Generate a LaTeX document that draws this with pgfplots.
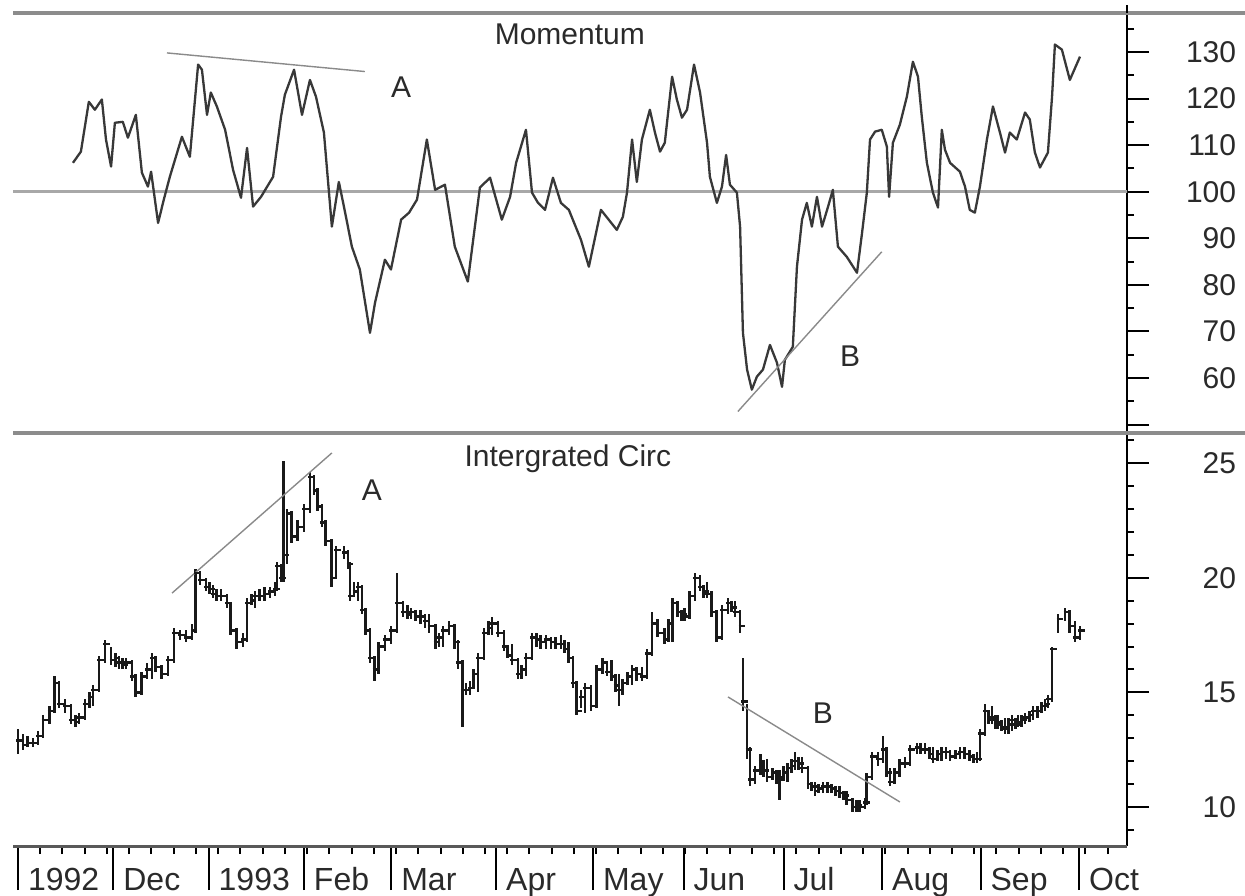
\documentclass[border=0pt]{standalone}
\usepackage{fontspec}
\setmainfont{Liberation Sans}
\usepackage{pgfplots}
\usepackage{pgfplotstable}
\pgfplotsset{compat=1.18}

\pgfdeclareplotmark{ohlc}{%
  \pgfpathmoveto{\pgfqpoint{-0.3\pgfplotmarksize}{0pt}}%
  \pgfpathlineto{\pgfqpoint{\pgfplotmarksize}{0pt}}%
  \pgfusepathqstroke}

\definecolor{framegray}{HTML}{8C8C8C}
\definecolor{linegray}{HTML}{383838}
\definecolor{refgray}{HTML}{A8A8A8}
\definecolor{trendgray}{HTML}{8A8A8A}
\definecolor{textgray}{HTML}{2A2A2A}

% Momentum (x = days from 1 Nov 1992)
\pgfplotstableread{
x y
17.3 106.2
19.8 108.6
22.3 119.3
24.2 117.6
26.4 119.8
27.7 111.2
29.3 105.4
30.5 114.8
33.0 115.0
34.6 111.6
37.1 116.5
39.0 104.1
40.9 101.1
41.9 104.3
44.1 93.3
45.9 98.3
47.8 103.2
51.6 111.8
54.1 107.5
56.7 127.3
57.9 126.2
59.5 116.5
60.7 121.3
62.6 118.3
65.2 113.3
67.7 104.7
70.2 98.7
72.1 109.4
74.0 96.8
76.5 98.9
80.3 103.2
82.8 116.1
84.0 120.8
86.9 126.2
89.4 116.5
91.9 124.0
93.8 120.4
96.3 112.7
98.8 92.5
101.0 102.1
102.6 96.8
105.1 88.2
107.6 83.3
110.8 69.7
112.4 76.2
115.5 85.4
117.4 83.3
120.6 94.0
123.1 95.5
125.6 98.3
128.7 111.2
131.3 100.4
134.4 101.5
137.5 88.2
141.6 80.7
145.4 100.9
148.6 103.0
152.3 94.0
154.9 98.9
156.8 106.2
159.9 113.3
161.8 99.8
163.7 97.6
165.9 96.1
168.4 103.0
170.9 97.6
173.4 96.1
177.2 89.7
179.7 83.9
183.5 96.1
188.5 91.8
190.4 94.6
191.7 99.8
193.3 111.2
194.8 102.1
196.4 111.2
198.9 117.6
200.5 112.7
202.1 108.6
203.6 110.5
205.9 124.7
207.4 119.8
209.0 115.9
210.6 117.6
212.8 127.3
214.7 121.3
216.9 110.5
217.8 103.2
220.0 97.6
221.6 101.1
222.9 107.9
224.1 101.5
226.3 99.8
227.3 92.5
228.2 69.7
229.5 61.8
231.0 57.5
232.6 60.3
234.5 61.8
236.7 67.1
238.9 63.3
240.5 58.1
241.4 63.9
243.9 66.7
245.2 83.9
246.8 94.0
248.3 97.6
249.9 92.5
251.5 98.9
253.1 92.5
255.0 96.8
256.5 100.4
258.1 88.2
260.9 86.0
264.1 82.6
265.7 91.2
267.2 99.8
268.2 111.2
269.8 112.9
271.9 113.3
273.5 109.7
274.2 98.9
275.4 110.5
277.6 114.4
279.8 120.4
281.7 127.9
283.3 124.7
284.5 116.1
286.1 106.2
288.0 99.8
289.6 96.6
290.8 113.3
291.8 109.0
293.4 106.2
296.5 104.3
298.1 101.1
299.6 96.1
301.2 95.5
302.8 101.1
305.0 111.2
306.9 118.3
309.1 112.7
310.7 108.4
312.2 112.7
314.4 111.2
317.0 117.0
318.5 115.5
320.1 108.4
321.7 105.2
324.2 108.4
325.5 120.4
326.4 131.6
328.6 130.5
331.1 124.0
334.3 129.0
}\momentum

% Integrated Circuit price bars: x low high close
\pgfplotstableread{
x l h c
0.0 12.3 13.4 12.9
3.1 12.6 13.1 12.8
6.3 12.7 13.3 13.1
7.9 13.0 14.0 13.8
9.8 13.6 14.4 14.2
11.6 14.1 15.7 15.4
12.9 14.3 15.5 14.5
14.8 14.1 14.7 14.4
16.7 13.6 14.5 13.8
19.2 13.6 14.1 13.9
21.1 13.8 14.7 14.5
23.6 14.4 15.3 15.1
25.5 15.0 16.6 16.4
27.4 16.3 17.3 17.1
29.3 16.2 17.0 16.4
31.8 16.0 16.6 16.3
34.0 16.0 16.5 16.3
35.9 15.5 16.4 15.7
37.1 14.8 15.8 15.0
39.0 14.9 15.9 15.7
42.2 15.6 16.7 16.5
43.4 15.9 16.6 16.1
45.3 15.6 16.2 15.8
47.2 15.7 16.6 16.4
49.1 16.3 17.8 17.6
51.0 17.3 17.7 17.5
52.9 17.2 17.7 17.4
54.8 17.3 18.0 17.7
56.0 17.6 20.4 20.2
57.3 19.7 20.3 19.9
59.2 19.4 20.0 19.6
61.4 19.1 19.7 19.3
63.9 19.0 19.5 19.2
65.8 18.7 19.3 18.9
67.0 17.5 18.9 17.7
68.9 16.9 17.8 17.2
70.8 17.0 17.6 17.3
72.1 17.2 19.1 18.9
74.6 18.7 19.4 19.2
77.7 19.0 19.6 19.3
80.9 19.2 19.8 19.5
81.5 19.4 20.7 20.5
82.8 19.8 20.6 20.0
83.7 19.8 25.1 21.0
84.7 20.6 23.0 22.8
86.2 21.5 22.9 21.8
88.1 21.6 22.5 22.2
90.0 22.0 23.2 23.0
91.9 22.8 24.6 24.4
93.2 23.6 24.5 23.8
94.4 22.9 23.9 23.1
95.7 22.2 23.2 22.4
96.9 21.4 22.5 21.6
98.8 19.6 21.7 20.0
100.1 20.0 21.4 21.2
102.6 20.8 21.4 21.1
103.9 20.4 21.2 20.6
104.5 19.0 20.7 19.2
107.0 19.0 19.8 19.6
108.3 18.4 19.7 18.6
109.5 17.5 18.7 17.7
110.8 16.3 17.8 16.5
112.1 15.5 16.6 16.0
113.6 15.8 17.2 17.0
115.5 16.8 17.5 17.3
117.4 17.1 17.9 17.7
119.3 17.6 20.2 18.9
121.2 18.3 19.0 18.5
123.7 18.2 18.7 18.5
126.8 18.0 18.6 18.3
129.4 17.6 18.4 17.9
131.3 16.9 18.0 17.2
133.8 17.0 17.9 17.7
135.7 17.5 18.1 17.9
137.5 16.9 18.0 17.2
138.5 16.0 17.3 16.3
139.8 13.5 16.4 15.1
142.3 14.9 15.5 15.2
144.8 15.0 16.7 16.5
146.7 16.4 17.8 17.6
149.2 17.5 18.3 18.0
151.1 17.4 18.1 17.6
153.0 16.8 17.7 17.0
155.5 16.2 17.1 16.4
157.4 15.6 16.5 15.8
159.9 15.7 16.7 16.5
161.8 16.4 17.6 17.4
164.6 16.9 17.5 17.2
167.8 16.9 17.4 17.2
170.9 16.9 17.5 17.1
173.4 16.3 17.2 16.5
174.7 15.2 16.6 15.4
175.9 14.0 15.5 14.2
178.5 14.1 15.4 15.2
180.4 14.2 15.3 14.4
182.2 14.3 16.2 16.0
184.1 15.8 16.5 16.3
186.7 15.5 16.4 15.7
189.2 14.4 15.8 15.1
190.4 14.9 15.6 15.4
193.3 15.3 16.2 16.0
196.4 15.5 16.1 15.7
198.0 15.6 16.9 16.7
199.6 16.6 18.5 18.0
201.4 17.4 18.2 17.6
203.6 17.1 17.8 17.3
205.9 17.2 19.1 18.9
207.7 18.3 19.0 18.5
209.9 18.1 18.7 18.3
211.5 18.2 19.4 19.2
213.1 19.0 20.2 20.0
214.7 19.4 20.1 19.6
216.9 19.1 19.8 19.3
218.4 18.3 19.4 18.5
220.0 17.2 18.6 17.4
221.6 17.3 18.8 18.6
223.5 18.4 19.1 18.9
225.7 18.3 19.0 18.5
227.3 17.6 18.6 17.9
228.2 14.2 16.5 14.6
229.5 12.1 14.5 12.5
230.4 10.9 12.6 11.2
232.0 11.0 11.8 11.6
233.6 11.4 12.3 12.0
235.8 11.1 12.1 11.3
237.6 11.2 11.7 11.5
239.8 10.3 11.6 11.2
242.1 11.1 11.9 11.7
244.6 11.6 12.4 12.0
246.8 11.5 12.2 11.7
248.7 10.8 11.8 11.0
250.9 10.5 11.1 10.7
253.4 10.6 11.1 10.9
256.2 10.6 11.0 10.8
258.7 10.4 10.9 10.6
260.9 10.1 10.7 10.3
262.8 9.8 10.4 10.0
265.0 9.8 10.3 10.0
266.6 9.9 10.4 10.2
267.2 10.1 11.5 11.3
268.8 11.2 12.4 12.2
270.7 11.8 12.4 12.1
272.3 11.9 13.1 12.5
273.5 11.3 12.6 11.5
274.5 10.9 11.7 11.1
276.0 11.0 11.7 11.5
277.6 11.3 12.1 11.9
279.2 11.7 12.2 11.9
280.8 11.8 12.7 12.5
283.0 12.3 12.8 12.6
285.5 12.3 12.8 12.5
288.0 11.9 12.6 12.1
290.8 12.0 12.6 12.4
293.4 12.0 12.5 12.2
296.5 12.1 12.6 12.4
299.6 12.0 12.5 12.2
301.9 11.9 12.4 12.1
302.8 12.0 13.4 13.2
304.4 13.1 14.5 14.2
306.6 13.6 14.4 13.8
308.5 13.4 14.0 13.7
310.7 13.2 13.9 13.4
312.9 13.3 14.0 13.8
314.8 13.5 14.0 13.7
317.0 13.6 14.1 13.9
319.5 13.8 14.4 14.2
322.3 14.1 14.6 14.4
324.2 14.3 14.9 14.7
325.5 14.6 17.0 16.9
327.4 17.6 18.4 18.2
329.6 18.1 18.7 18.5
331.1 17.6 18.6 17.9
332.7 17.2 18.1 17.4
334.3 17.3 17.9 17.7
1.6 12.5 13.2 12.7
4.7 12.6 13.0 12.8
18.0 13.5 14.0 13.7
22.4 14.3 15.0 14.8
30.6 16.1 16.7 16.5
32.9 16.0 16.5 16.2
40.6 15.6 16.3 16.0
60.3 19.3 19.8 19.5
62.6 19.0 19.5 19.2
73.4 18.8 19.3 19.0
76.1 19.0 19.5 19.2
79.3 19.1 19.6 19.4
105.8 19.2 19.8 19.4
122.5 18.2 18.8 18.4
125.2 18.1 18.6 18.3
128.1 17.8 18.4 18.1
132.5 17.0 17.6 17.4
141.0 14.9 15.4 15.1
143.5 15.2 16.0 15.8
148.0 17.5 18.1 17.8
154.2 16.5 17.0 16.6
158.6 15.6 16.2 16.0
163.2 17.0 17.6 17.3
166.2 16.9 17.5 17.3
169.3 16.9 17.4 17.1
172.1 16.7 17.3 16.9
177.2 14.3 15.1 14.8
185.4 15.7 16.3 15.9
188.0 15.0 15.8 15.3
191.8 15.3 15.9 15.7
194.8 15.5 16.1 15.8
204.8 17.2 18.2 18.0
208.8 18.1 18.6 18.4
215.8 19.1 19.7 19.4
224.6 18.5 19.0 18.7
234.7 11.3 12.0 11.6
238.7 11.0 11.6 11.3
241.0 11.2 11.8 11.5
243.4 11.5 12.1 11.8
245.7 11.6 12.2 11.9
249.8 10.7 11.1 10.9
252.1 10.6 11.0 10.8
254.8 10.6 11.1 10.9
257.4 10.5 10.9 10.7
259.8 10.3 10.7 10.5
263.9 9.8 10.3 10.1
284.2 12.3 12.8 12.5
286.8 12.1 12.6 12.3
289.4 12.0 12.5 12.3
292.1 12.1 12.6 12.4
295.0 12.1 12.5 12.3
298.0 12.1 12.6 12.3
300.8 11.9 12.3 12.1
305.5 13.6 14.2 13.9
307.6 13.4 14.0 13.6
309.6 13.3 13.8 13.5
311.8 13.2 13.9 13.6
313.9 13.4 13.9 13.6
315.9 13.5 14.0 13.8
318.3 13.7 14.2 14.0
320.9 13.9 14.4 14.2
323.3 14.2 14.7 14.5
}\price

\begin{document}
\begin{tikzpicture}
\path[use as bounding box] (0,0) rectangle (622.5pt,447.5pt);
\pgfplotsset{
  every tick label/.append style={font=\fontsize{15}{18}\selectfont, text=textgray},
  /pgf/number format/assume math mode=true,
}
% ---------- Momentum panel ----------
\begin{axis}[
  at={(6.5pt,231pt)}, anchor=south west,
  scale only axis, width=557pt, height=210pt,
  xmin=-1.57, xmax=349.1, ymin=48.19, ymax=138.37,
  axis x line=none, axis y line*=right,
  y axis line style={black, line width=1pt},
  ytick={60,70,...,130}, extra y ticks={50}, extra y tick labels={},
  minor ytick={55,65,...,135},
  tick align=outside, major tick length=11pt, minor tick length=3.5pt,
  tick style={black, line width=1pt},
  yticklabel style={text width=40pt, align=right},
]
\addplot[refgray, line width=1.3pt] coordinates {(-2,100) (350,100)};
\addplot[linegray, line width=1.15pt, line join=round] table[x=x,y=y] {\momentum};
\addplot[trendgray, line width=0.7pt] coordinates {(46.9,129.8) (109.2,125.8)};
\addplot[trendgray, line width=0.7pt] coordinates {(226.6,52.8) (271.9,87.1)};
\node[font=\fontsize{15}{18}\selectfont, text=textgray] at (axis cs:173.7,133.7) {Momentum};
\node[font=\fontsize{15}{18}\selectfont, text=textgray] at (axis cs:120.6,122.5) {A};
\node[font=\fontsize{15}{18}\selectfont, text=textgray] at (axis cs:261.9,64.6) {B};
\end{axis}
% ---------- Price panel ----------
\begin{axis}[
  at={(6.5pt,24.5pt)}, anchor=south west,
  scale only axis, width=557pt, height=206.5pt,
  xmin=-1.57, xmax=349.1, ymin=8.30, ymax=26.31,
  axis x line=none, axis y line*=right,
  y axis line style={black, line width=1pt},
  ytick={10,15,20,25},
  minor ytick={9,11,12,13,14,16,17,18,19,21,22,23,24,26},
  tick align=outside, major tick length=11pt, minor tick length=3.5pt,
  tick style={black, line width=1pt},
  yticklabel style={text width=40pt, align=right},
]
\addplot[black!90, only marks, mark=ohlc, mark size=2.6pt,
  mark options={line width=1.2pt},
  error bars/.cd, y dir=both, y explicit, error mark=none,
  error bar style={black!90, line width=1.4pt}]
  table[x=x, y=c, y error plus expr=\thisrow{h}-\thisrow{c},
        y error minus expr=\thisrow{c}-\thisrow{l}] {\price};
\addplot[trendgray, line width=0.7pt] coordinates {(48.5,19.33) (98.8,25.44)};
\addplot[trendgray, line width=0.7pt] coordinates {(223.5,14.80) (277.6,10.22)};
\node[font=\fontsize{15}{18}\selectfont, text=textgray] at (axis cs:173.1,25.2) {Intergrated Circ};
\node[font=\fontsize{15}{18}\selectfont, text=textgray] at (axis cs:111.4,23.8) {A};
\node[font=\fontsize{15}{18}\selectfont, text=textgray] at (axis cs:253.4,14.1) {B};
\end{axis}
% ---------- date axis ----------
\begin{axis}[
  at={(6.5pt,24.5pt)}, anchor=south west,
  scale only axis, width=557pt, height=206.5pt,
  xmin=-1.57, xmax=349.1, ymin=0, ymax=1,
  hide y axis, axis x line*=bottom, x axis line style={draw=none},
  xtick={0,30,60,90,117.5,150.5,181,209.5,241,272,303,334},
  xticklabels={1992,Dec,1993,Feb,Mar,Apr,May,Jun,Jul,Aug,Sep,Oct},
  minor xtick={7,14,...,343},
  tick align=outside, major tick length=22pt, minor tick length=4pt,
  tick style={black, line width=1pt},
  xticklabel style={anchor=base west, xshift=1.5pt, font=\fontsize{16}{19}\selectfont},
]
\addplot[draw=none] coordinates {(0,0.5)};
\end{axis}
\draw[framegray, line width=2pt] (6.5pt,441pt) -- (622.5pt,441pt);
\draw[framegray, line width=2pt] (6.5pt,231pt) -- (622.5pt,231pt);
\draw[black!65, line width=1.5pt] (6.5pt,24.5pt) -- (563.5pt,24.5pt);
\draw[black, line width=1pt] (563.5pt,441pt) -- (563.5pt,445pt);
\end{tikzpicture}
\end{document}
